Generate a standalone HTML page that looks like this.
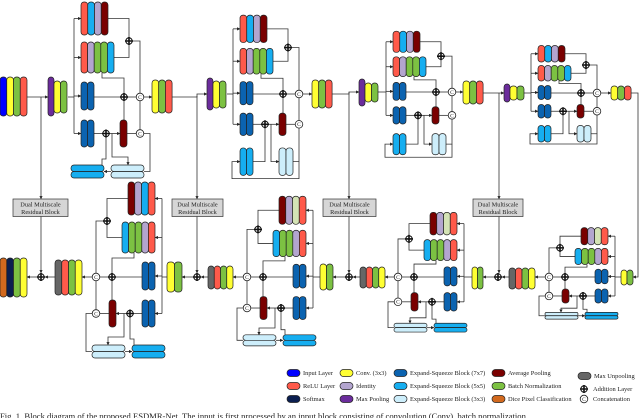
<!DOCTYPE html><html><head><meta charset="utf-8"><style>
body{margin:0;background:#fff;width:640px;height:418px;overflow:hidden}
svg{display:block}
text{font-family:"Liberation Serif",serif;fill:#222}
</style></head><body>
<svg id="s" width="640" height="418" viewBox="0 0 640 418" xmlns="http://www.w3.org/2000/svg">
<defs><marker id="a" viewBox="0 0 6 6" refX="5.5" refY="3" markerWidth="4" markerHeight="4" orient="auto"><path d="M0,0L6,3L0,6z" fill="#222"/></marker></defs>
<g id="g"></g>
<text x="0" y="419" font-size="8.6">Fig. 1.  Block diagram of the proposed ESDMR-Net. The input is first processed by an input block consisting of convolution (Conv), batch normalization</text>
</svg>
<script>
var C={bl:"#0000ff",y:"#ffff33",g:"#7cc142",r:"#ff5a4a",li:"#b3a5cf",m:"#7a0000",db:"#0b63b0",cy:"#16aef0",lc:"#cdeefb",p:"#6b2c9c",gr:"#666",nv:"#0b1f50",o:"#d2691e",pg:"#d4e3b5"};
var out="";
function L(pts,arrow){out+='<polyline points="'+pts.map(p=>p.join(",")).join(" ")+'" fill="none" stroke="#333" stroke-width="0.8"'+(arrow?' marker-end="url(#a)"':'')+'/>';}
function V(x,y,w,h,cols){cols.forEach((c,i)=>{var rx=Math.min(w/2,3);out+='<rect x="'+(x+i*w)+'" y="'+y+'" width="'+w+'" height="'+h+'" rx="'+rx+'" fill="'+C[c]+'" stroke="#222" stroke-width="0.7"/>';});}
function H(x,y,w,h,n,c){for(var i=0;i<n;i++)out+='<rect x="'+x+'" y="'+(y+i*h/n)+'" width="'+w+'" height="'+(h/n)+'" rx="'+Math.min(h/n/2,3)+'" fill="'+C[c]+'" stroke="#222" stroke-width="0.7"/>';}
function AD(x,y){out+='<circle cx="'+x+'" cy="'+y+'" r="3.2" fill="#fff" stroke="#111" stroke-width="1"/><path d="M'+(x-4)+','+y+'h8M'+x+','+(y-4)+'v8" stroke="#111" stroke-width="1.6"/>';}
function CC(x,y){out+='<circle cx="'+x+'" cy="'+y+'" r="3.8" fill="#fff" stroke="#222" stroke-width="0.8"/><text x="'+x+'" y="'+(y+1.9)+'" font-size="5.5" text-anchor="middle">C</text>';}
function block(bx,my,s,d,style,topC,secC){
 var X=a=>bx+d*a, Y=b=>my+b*s;
 function st(a0,a1,b0,b1,cols){var w=(a1-a0)/cols.length;var x=Math.min(X(a0),X(a1));V(x,Y(b0),w,Y(b1)-Y(b0),cols);}
 var tc=-78.5,sc=-39.5,d2=36.5;
 L([[X(0),Y(tc)],[X(0),Y(d2)]]);
 L([[X(0),Y(tc)],[X(7),Y(tc)]],1);L([[X(0),Y(sc)],[X(7),Y(sc)]],1);L([[X(0),Y(-1)],[X(7),Y(-1)]],1);L([[X(0),Y(d2)],[X(7),Y(d2)]],1);
 L([[X(34),Y(tc)],[X(55),Y(tc)],[X(55),Y(-56)]]);
 L([[X(40),Y(sc)],[X(55),Y(sc)],[X(55),Y(-56)]]);
 L([[X(55),Y(-56)],[X(66),Y(-56)],[X(66),Y(0)]]);
 L([[X(28),Y(-24)],[X(28),Y(-19)],[X(50),Y(-19)],[X(50),Y(0)]]);
 L([[X(20),Y(0)],[X(50),Y(0)]]);L([[X(50),Y(0)],[X(66),Y(0)]]);
 L([[X(20),Y(d2)],[X(32),Y(d2)]]);L([[X(32),Y(d2)],[X(46),Y(d2)]],1);L([[X(53),Y(d2)],[X(66),Y(d2)]],1);
 L([[X(50),Y(23)],[X(50),Y(0)]]);L([[X(66),Y(d2)],[X(66),Y(0)]]);
 if(style=="A"){
  L([[X(28),Y(68)],[X(28),Y(62)],[X(32),Y(62)],[X(32),Y(d2)]]);
  L([[X(38),Y(d2)],[X(38),Y(60)],[X(54),Y(60)],[X(54),Y(68)]],1);
  L([[X(70),Y(74.5)],[X(76),Y(74.5)],[X(76),Y(d2)],[X(66),Y(d2)]]);
  L([[X(37),Y(74.5)],[X(30),Y(74.5)]],1);
  var x1=Math.min(X(-3),X(30)),x2=Math.min(X(37),X(70));
  H(x1,Y(68),33,Y(81)-Y(68),2,"cy");H(x2,Y(68),33,Y(81)-Y(68),2,"lc");
 }else{
  var cc=81.5;
  L([[X(20),Y(cc)],[X(32),Y(cc)],[X(32),Y(d2)]]);
  L([[X(38),Y(d2)],[X(38),Y(cc)],[X(46),Y(cc)]],1);
  L([[X(60),Y(cc)],[X(66),Y(cc)],[X(66),Y(d2)]]);
  L([[X(66),Y(cc)],[X(66),Y(102)],[X(-1),Y(102)],[X(-1),Y(cc)],[X(7),Y(cc)]],1);
  st(7,20,65,98,["cy","cy"]);st(46,60,65,98,["lc","lc"]);
 }
 st(7,34,-95,-62,topC);st(7,40,-55,-24,secC);st(7,20,-15,13,["db","db"]);st(7,20,23,50,["db","db"]);
 st(46,53,23,50,["m"]);
 AD(X(55),Y(-56));AD(X(50),Y(0));AD(X(32),Y(d2));CC(X(66),Y(0));CC(X(66),Y(d2));
}
L([[27,97],[48,97]],1);L([[68,97],[74,97]]);L([[140,97],[152,97]],1);
L([[172,97],[197,97],[197,94],[207,94]],1);L([[227,94],[233,94]]);L([[299,94],[312,94]],1);
L([[332,94],[349,94],[349,92],[359,92]],1);L([[378,92],[386,92]]);L([[452,92],[463,92]],1);
L([[483,93],[504,93]],1);L([[524,93],[531,93]]);L([[597,93],[611,93]],1);
L([[631,93],[638,93],[638,277],[633,277]],1);
[[41,97,13,55],[197,96,172,51],[349,92,323,53],[499,93,473,50]].forEach(b=>{
 L([[b[0],b[1]],[b[0],199]],1);L([[b[0],216],[b[0],273]],1);
 out+='<rect x="'+b[2]+'" y="199" width="'+b[3]+'" height="17.5" fill="#d6d6d6" stroke="#333" stroke-width="0.7"/>';
 out+='<text x="'+(b[2]+b[3]/2)+'" y="206.5" font-size="6.3" text-anchor="middle">Dual Multiscale</text><text x="'+(b[2]+b[3]/2)+'" y="214" font-size="6.3" text-anchor="middle">Residual Block</text>';
});
L([[621,277],[615,277]]);L([[548,277],[535,277]],1);L([[509,277],[502,277]],1);L([[494,277],[483,277]],1);L([[472,277],[464,277]]);
L([[398,277],[385,277]],1);L([[360,277],[353,277]],1);L([[345,277],[333,277]],1);L([[320,277],[313,277]]);
L([[247,277],[233,277]],1);L([[208,277],[201,277]],1);L([[193,277],[182,277]],1);L([[167,277],[162,277]]);
L([[95,277],[82,277]],1);L([[55,277],[45,277]],1);L([[37,277],[27,277]],1);
block(74,97,1,1,"A",["r","cy","li","m"],["r","li","g","g","cy"]);
block(233,94,0.83,1,"B",["r","cy","li","m"],["r","li","g","g","cy"]);
block(386,92,0.64,1,"B",["r","cy","li","m"],["r","li","g","g","cy"]);
block(531,93,0.5,1,"B",["r","cy","li","m"],["r","li","g","g","cy"]);
block(162,277,1,-1,"A",["m","li","cy","r"],["cy","g","g","li","r"]);
block(313,277,0.85,-1,"A",["m","li","pg","r"],["cy","g","g","li","r"]);
block(464,277,0.68,-1,"A",["m","li","pg","r"],["cy","g","g","li","r"]);
block(615,277,0.52,-1,"A",["m","li","pg","r"],["cy","g","g","li","r"]);
V(0,77,6.75,39,["bl","y","g","r"]);V(48,77,6,39,["p"]);V(54,81,6.5,32,["y","g"]);V(152,80,6.7,33,["y","g","r"]);
V(207,78,6,32,["p"]);V(213,81,6.5,27,["y","g"]);V(312,80,6.7,28,["y","g","r"]);
V(359,79,6,27,["p"]);V(365,83,6.5,19,["y","g"]);V(463,81,6.7,23,["y","g","r"]);
V(504,84,6,18,["p"]);V(510,86,7,14,["y","g"]);V(611,86,6.7,14,["y","g","r"]);
V(621,270,6,15,["y","g"]);V(509,268,6.5,21,["gr","r","g","y"]);AD(498,277);
V(472,267,5.5,22,["y","g"]);V(360,267,6.25,21,["gr","r","g","y"]);AD(349,277);
V(320,264,6.5,26,["y","g"]);V(208,266,6.25,23,["gr","r","g","y"]);AD(197,277);
V(167,262,7.5,30,["y","g"]);V(55,260,6.75,35,["gr","r","g","y"]);AD(41,277);
V(0,258,6.75,39,["o","nv","g","y"]);
function LG(x,y,c,t){out+='<rect x="'+x+'" y="'+(y-3.5)+'" width="13" height="7" rx="3.5" fill="'+C[c]+'" stroke="#222" stroke-width="0.7"/><text x="'+(x+16)+'" y="'+(y+2.2)+'" font-size="6.4">'+t+'</text>';}
LG(287,373,"bl","Input Layer");LG(287,386,"r","ReLU Layer");LG(287,399,"nv","Softmax");
LG(340,373,"y","Conv. (3x3)");LG(340,386,"li","Identity");LG(340,399,"p","Max Pooling");
LG(394,373,"db","Expand-Squeeze Block (7x7)");LG(394,386,"cy","Expand-Squeeze Block (5x5)");LG(394,399,"lc","Expand-Squeeze Block (3x3)");
LG(492,373,"m","Average Pooling");LG(492,386,"g","Batch Normalization");LG(492,399,"o","Dice Pixel Classification");
LG(578,376,"gr","Max Unpooling");
AD(584,389);out+='<text x="593" y="391" font-size="6.4">Addition Layer</text>';
CC(584,399);out+='<text x="593" y="401" font-size="6.4">Concatenation</text>';
document.getElementById("g").innerHTML=out;
</script>
</body></html>
